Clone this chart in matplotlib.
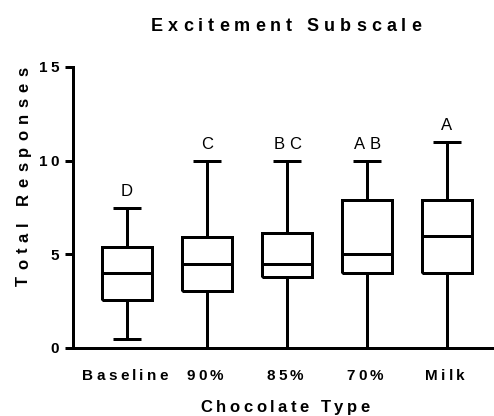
import matplotlib
matplotlib.use('Agg')
import matplotlib.pyplot as plt
from matplotlib.font_manager import FontProperties, findfont, get_font

# ---------------- data ----------------
categories = ['Baseline', '90%', '85%', '70%', 'Milk']
whisker_low = [0.5, 0, 0, 0, 0]
q1_values = [2.55, 3.05, 3.8, 4, 4]
median_values = [4, 4.5, 4.5, 5, 6]
q3_values = [5.4, 5.9, 6.15, 7.9, 7.9]
whisker_high = [7.5, 10, 10, 10, 11]
group_letters = ['D', 'C', 'BC', 'AB', 'A']
y_ticks = [0, 5, 10, 15]

title_text = 'Excitement Subscale'
x_title = 'Chocolate Type'
y_title = 'Total Responses'

# ---------------- figure ----------------
W, H, DPI = 494, 416, 100
FAM = 'Liberation Sans'
LW = 3 * 72 / DPI  # 3 px lines

fig = plt.figure(figsize=(W / DPI, H / DPI), dpi=DPI)
ax = fig.add_axes([73 / W, 68 / H, 420 / W, 281 / H])

positions = list(range(1, len(categories) + 1))
stats = [dict(label=c, whislo=lo, q1=a, med=m, q3=b, whishi=hi, fliers=[])
         for c, lo, a, m, b, hi in zip(categories, whisker_low, q1_values,
                                        median_values, q3_values, whisker_high)]
line = dict(color='black', linewidth=LW, solid_capstyle='butt', solid_joinstyle='miter')
ax.bxp(stats, positions=positions, widths=0.63, capwidths=0.34, showfliers=False,
       boxprops=line, whiskerprops=line, capprops=line,
       medianprops=dict(color='black', linewidth=LW, solid_capstyle='butt'))

ax.set_xlim(0.325, 5.575)
ax.set_ylim(0, 15)
ax.set_yticks(y_ticks)
ax.tick_params(axis='y', length=8 * 72 / DPI, width=LW, direction='out',
               color='black', labelleft=False)
ax.tick_params(axis='x', length=0, labelbottom=False)
for s in ['top', 'right']:
    ax.spines[s].set_visible(False)
for s in ['left', 'bottom']:
    ax.spines[s].set_linewidth(LW)
    ax.spines[s].set_color('black')


def spaced(x, y, s, size, gap, weight='bold', ha='center', rot=0):
    """Draw letter-spaced text; x, y in display pixels (origin bottom-left)."""
    fp = FontProperties(family=FAM, weight=weight, size=size)
    font = get_font(findfont(fp))
    font.set_size(size, DPI)
    advs = [font.load_char(ord(c)).linearHoriAdvance / 65536 for c in s]
    total = sum(advs) + gap * (len(s) - 1)
    pos = {'center': -total / 2, 'right': -total, 'left': 0}[ha]
    for c, a in zip(s, advs):
        cc = pos + a / 2
        if c != ' ':
            if rot == 0:
                fig.text((x + cc) / W, y / H, c, fontproperties=fp,
                         ha='center', va='baseline')
            else:
                fig.text(x / W, (y + cc) / H, c, fontproperties=fp,
                         ha='center', va='baseline', rotation=90,
                         rotation_mode='anchor')
        pos += a + gap


# title & axis titles
spaced(286, H - 31, title_text, 13, 5.0)
spaced(285, H - 412, x_title, 12, 3.5)
spaced(28, H - 176.5, y_title, 12, 6.1, rot=90)

# x tick labels
for p, c in zip(positions, categories):
    xd = ax.transData.transform((p, 0))[0]
    spaced(xd - 2, H - 379.5, c, 11, 3.2)

# y tick labels
cap = 0.716 * 11 * DPI / 72
for v in y_ticks:
    yd = ax.transData.transform((0, v))[1]
    spaced(59, yd - cap / 2, str(v), 11, 3.0, ha='right')

# group letters above whiskers
for p, hi, lab in zip(positions, whisker_high, group_letters):
    xd, yd = ax.transData.transform((p, hi))
    spaced(xd, yd + 12, lab, 12, 4.5, weight='normal')

fig.savefig('out.png', dpi=DPI)
